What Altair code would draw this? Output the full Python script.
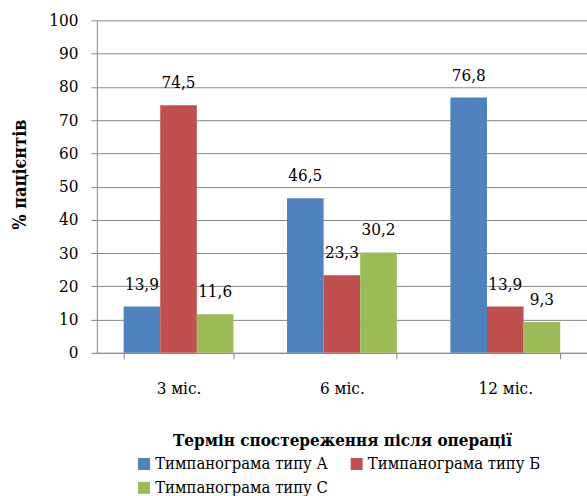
import altair as alt
import pandas as pd

# Observation periods and tympanogram types
periods = ["3 міс.", "6 міс.", "12 міс."]
series = ["Тимпанограма типу А", "Тимпанограма типу Б", "Тимпанограма типу С"]

# Share of patients (%) per tympanogram type
type_a = [13.9, 46.5, 76.8]
type_b = [74.5, 23.3, 13.9]
type_c = [11.6, 30.2, 9.3]

colors = ["#4F81BD", "#C0504D", "#9BBB59"]

rows = []
for name, vals in zip(series, [type_a, type_b, type_c]):
    for p, v in zip(periods, vals):
        rows.append({"period": p, "series": name, "value": v,
                     "label": f"{v:.1f}".replace(".", ",")})
df = pd.DataFrame(rows)

FONT = "DejaVu Serif Condensed"
SIZE = 17
GRID = "#878787"

base = alt.Chart(df).encode(
    x=alt.X(
        "period:N",
        sort=periods,
        scale=alt.Scale(paddingInner=0.328, paddingOuter=0.164),
        axis=alt.Axis(
            title="Термін спостереження після операції",
            labelAngle=0,
            labelFont=FONT, labelFontSize=SIZE, labelColor="black",
            labelPadding=22,
            tickBand="extent", tickSize=6, tickColor=GRID,
            domainColor=GRID, grid=False,
            titleFont=FONT, titleFontSize=SIZE, titleFontWeight="bold",
            titleColor="black", titleBaseline="alphabetic", titleY=93,
        ),
    ),
    xOffset=alt.XOffset("series:N", sort=series),
    y=alt.Y(
        "value:Q",
        scale=alt.Scale(domain=[0, 100]),
        axis=alt.Axis(
            title="% пацієнтів",
            values=list(range(0, 101, 10)),
            labelFont=FONT, labelFontSize=SIZE, labelColor="black",
            labelPadding=13,
            tickSize=6, tickColor=GRID,
            domainColor=GRID, gridColor=GRID, grid=True,
            titleFont=FONT, titleFontSize=18, titleFontWeight="bold",
            titleColor="black", titleAngle=270, titleAlign="center",
            titleBaseline="middle", titleX=-76, titleY=154,
        ),
    ),
)

bars = base.mark_bar().encode(
    color=alt.Color(
        "series:N",
        sort=series,
        scale=alt.Scale(domain=series, range=colors),
        legend=alt.Legend(
            title=None, orient="none", legendX=39, legendY=436,
            columns=2, direction="horizontal", columnPadding=20,
            rowPadding=7, padding=0,
            symbolType="square", symbolSize=144, symbolStrokeWidth=0,
            labelFont=FONT, labelFontSize=16.5, labelColor="black",
            labelOffset=3, labelLimit=400,
        ),
    )
)

labels = base.mark_text(
    baseline="bottom", dy=-13, font=FONT, fontSize=SIZE, color="black"
).encode(text="label:N")

chart = (
    alt.layer(bars, labels)
    .properties(
        width=491, height=333,
        autosize=alt.AutoSizeParams(type="none"),
        padding={"left": 97, "top": 20, "right": 0, "bottom": 143},
    )
    .configure_view(stroke=None)
)

chart.save("out.html", embed_options={"renderer": "svg", "actions": False})
